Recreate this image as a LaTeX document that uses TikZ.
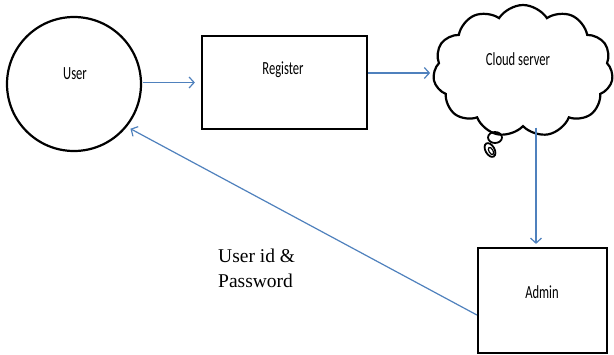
\documentclass[tikz,border=0pt]{standalone}
\usepackage{fontspec}
\setmainfont{Liberation Serif}
\newfontfamily\boxfont[FakeStretch=0.68]{Carlito}
\usetikzlibrary{shapes.symbols,arrows.meta}
\definecolor{flowblue}{HTML}{4F81BD}
\begin{document}
\begin{tikzpicture}[x=1pt,y=-1pt,
  shapeline/.style={draw=black, line width=2.2pt},
  boxlabel/.style={font=\boxfont\fontsize{18.5}{22}\selectfont, inner sep=0pt},
  flow/.style={draw=flowblue, line width=1.2pt, -{Straight Barb[length=5pt,width=11pt,line width=1.2pt]}},
  note/.style={font=\fontsize{19.5}{25}\selectfont, inner sep=0pt, anchor=base west}]
\useasboundingbox (0,0) rectangle (614,354);
\fill[white] (0,0) rectangle (614,354);
% shapes
\node[shapeline, circle, minimum size=134pt, inner sep=0pt] (user) at (74,84) {};
\node[shapeline, rectangle, minimum width=165pt, minimum height=93pt, inner sep=0pt] (register) at (284.5,82.5) {};
\node[shapeline, cloud, cloud puffs=11, cloud puff arc=115, aspect=1.36,
      minimum width=180pt, minimum height=132pt, inner sep=0pt] (cloud) at (523,71) {};
\node[shapeline, rectangle, minimum width=129pt, minimum height=105pt, inner sep=0pt] (admin) at (542.5,300.5) {};
% callout tail
\draw[line width=1.8pt] (495,137.5) ellipse [x radius=7pt, y radius=5.5pt];
\draw[line width=1.8pt, rotate around={30:(490,150)}] (490,150) ellipse [x radius=4.5pt, y radius=7.5pt];
\draw[line width=1.2pt, rotate around={30:(491,151)}] (491,151) ellipse [x radius=2pt, y radius=4pt];
% labels
\node[boxlabel] (userlbl) at (75,74) {User};
\node[boxlabel] (reglbl) at (283,70) {Register};
\node[boxlabel] (cloudlbl) at (518,59) {Cloud server};
\node[boxlabel] (adminlbl) at (542,292) {Admin};
\node[note] (note1) at (218,262) {User id \&};
\node[note] (note2) at (218,287) {Password};
% connectors
\coordinate (regout) at ([yshift=9.5pt]register.east);
\coordinate (admin-in) at ([xshift=-6.5pt]admin.north);
\coordinate (admin-out) at ([yshift=-14.5pt]admin.west);
\draw[flow, shorten >=6pt, shorten <=1pt] (user.east |- register.center) -- (register.west);
\draw[flow, shorten >=3pt] (regout) -- (regout -| cloud.west);
\draw[flow, shorten >=3pt] (cloud.south -| admin-in) -- (admin-in);
\draw[flow, shorten >=4pt] (admin-out) -- (user.-39);
\end{tikzpicture}
\end{document}
